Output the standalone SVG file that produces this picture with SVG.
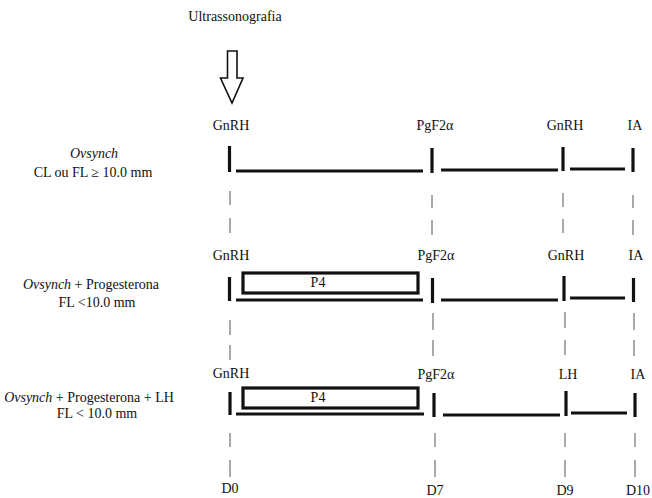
<svg xmlns="http://www.w3.org/2000/svg" width="652" height="498" viewBox="0 0 652 498" font-family="'Liberation Serif', 'DejaVu Serif', serif">
<style>
text{font-family:'Liberation Serif','DejaVu Serif',serif;font-size:14px;fill:#111}
.c{text-anchor:middle}
.i{font-style:italic}
.tk{stroke:#111;stroke-width:3.2;fill:none}
.ln{stroke:#111;stroke-width:3;fill:none}
.ds{stroke:#555;stroke-width:1;fill:none}
.bx{stroke:#111;stroke-width:3.2;fill:#fff}
</style>
<rect width="652" height="498" fill="#fff"/>
<g id="ultrasound">
<text class="c" x="235" y="21">Ultrassonografia</text>
<path d="M227.5 51 H237 V78 H243 L232 103 L220.5 78 H227.5 Z" fill="#fff" stroke="#111" stroke-width="1.6" stroke-linejoin="miter"/>
</g>
<g id="row1-label">
<text class="c i" x="94" y="158">Ovsynch</text>
<text class="c" x="93" y="177">CL ou FL ≥ 10.0 mm</text>
</g>
<g id="row2-label">
<text class="c" x="91" y="289"><tspan class="i">Ovsynch</tspan> + Progesterona</text>
<text class="c" x="97" y="307">FL &lt;10.0 mm</text>
</g>
<g id="row3-label">
<text class="c" x="89" y="402"><tspan class="i">Ovsynch</tspan> + Progesterona + LH</text>
<text class="c" x="97" y="418">FL &lt; 10.0 mm</text>
</g>
<g id="row1">
<text class="c" x="231" y="130">GnRH</text>
<text class="c" x="435" y="130">PgF2α</text>
<text class="c" x="565" y="130">GnRH</text>
<text class="c" x="635" y="130">IA</text>
<line class="tk" x1="229.5" y1="146" x2="229.5" y2="172"/>
<line class="tk" x1="432" y1="148" x2="432" y2="173"/>
<line class="tk" x1="563" y1="147" x2="563" y2="171"/>
<line class="tk" x1="633" y1="148" x2="633" y2="172"/>
</g>
<g id="row2">
<text class="c" x="231" y="260">GnRH</text>
<text class="c" x="436" y="260">PgF2α</text>
<text class="c" x="566" y="260">GnRH</text>
<text class="c" x="636" y="260">IA</text>
<rect class="bx" x="243" y="273" width="175" height="20"/>
<text class="c" x="318" y="287">P4</text>
<line class="tk" x1="229.5" y1="277" x2="229.5" y2="301"/>
<line class="tk" x1="432.5" y1="278" x2="432.5" y2="303"/>
<line class="tk" x1="564" y1="276" x2="564" y2="301"/>
<line class="tk" x1="633.5" y1="278" x2="633.5" y2="302"/>
</g>
<g id="row3">
<text class="c" x="231" y="378">GnRH</text>
<text class="c" x="436" y="379">PgF2α</text>
<text class="c" x="568" y="379">LH</text>
<text class="c" x="638" y="379">IA</text>
<rect class="bx" x="243" y="388" width="175" height="20"/>
<text class="c" x="318" y="402">P4</text>
<line class="tk" x1="230" y1="392" x2="230" y2="415"/>
<line class="tk" x1="434" y1="393" x2="434" y2="417"/>
<line class="tk" x1="566" y1="391" x2="566" y2="416"/>
<line class="tk" x1="635" y1="393" x2="635" y2="417"/>
</g>
<g id="days">
<text class="c" x="230" y="493">D0</text>
<text class="c" x="435" y="495">D7</text>
<text class="c" x="565" y="495">D9</text>
<text class="c" x="638" y="495">D10</text>
</g>
<g id="connectors">
<line class="ln" x1="236" y1="171" x2="423" y2="171"/>
<line class="ln" x1="441" y1="170" x2="558" y2="170"/>
<line class="ln" x1="570" y1="169" x2="625" y2="169"/>
<line class="ln" x1="236" y1="300" x2="423" y2="300"/>
<line class="ln" x1="441" y1="300" x2="558" y2="300"/>
<line class="ln" x1="570" y1="298" x2="625" y2="298"/>
<line class="ln" x1="236" y1="414" x2="424" y2="414"/>
<line class="ln" x1="443" y1="415" x2="560" y2="415"/>
<line class="ln" x1="571" y1="413" x2="627" y2="413"/>
<path class="ds" d="M230 191V205M230 218V233M432 195V208M432 220V235M563 193V207M563 219V233M633 195V208M633 220V235"/>
<path class="ds" d="M230 320V335M230 345V360M433 313V330M433 340V356M565 312V328M565 340V355M634 313V330M634 340V356"/>
<path class="ds" d="M230 433V447M230 460V477M435 433V447M435 460V477M565 433V447M565 460V477M635 433V447M635 460V477"/>
</g>
</svg>
